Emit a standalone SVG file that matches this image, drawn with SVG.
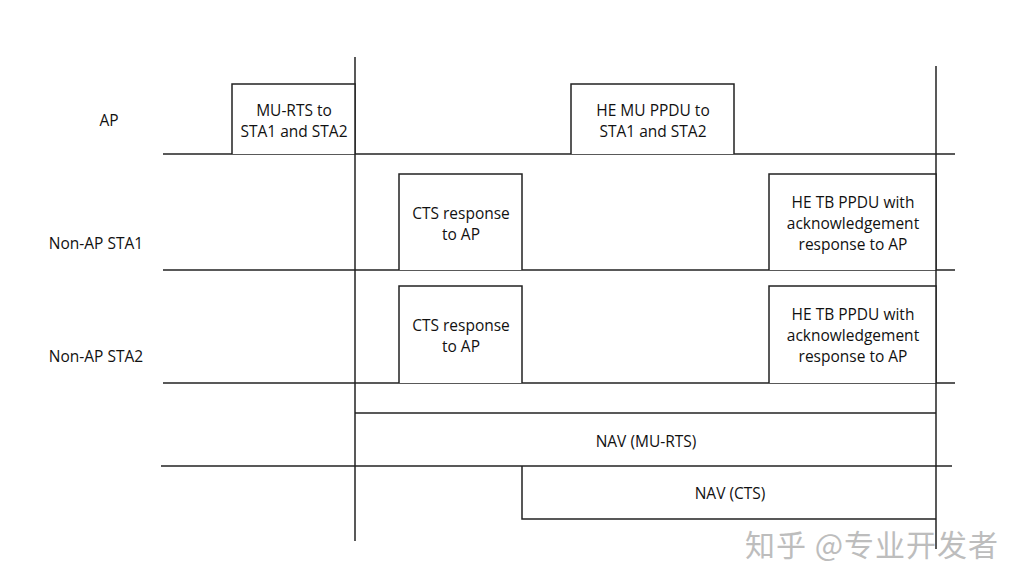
<svg xmlns="http://www.w3.org/2000/svg" width="1024" height="587" viewBox="0 0 1024 587">
<style>
.ln{stroke:#222;stroke-width:1.5;fill:none}
.bx{stroke:#222;stroke-width:1.5;fill:#fff}
.t{font-family:"Open Sans","Liberation Sans",sans-serif;font-size:15.5px;fill:#111;text-anchor:middle}
.wm{font-family:"Noto Sans CJK SC","Noto Sans",sans-serif;font-size:30px;fill:#bdbdbd;letter-spacing:1px}
</style>
<rect width="1024" height="587" fill="#fff"/>
<g id="connectors">
<line class="ln" x1="163" y1="154" x2="955" y2="154"/>
<line class="ln" x1="163" y1="270" x2="955" y2="270"/>
<line class="ln" x1="163" y1="383" x2="955" y2="383"/>
<line class="ln" x1="161" y1="466" x2="952" y2="466"/>
<line class="ln" x1="355" y1="57" x2="355" y2="541"/>
<line class="ln" x1="936" y1="66" x2="936" y2="549"/>
</g>
<g id="label-ap"><text class="t" x="109" y="126">AP</text></g>
<g id="label-sta1"><text class="t" x="96" y="249">Non-AP STA1</text></g>
<g id="label-sta2"><text class="t" x="96" y="362">Non-AP STA2</text></g>
<g id="murts">
<path class="bx" d="M232,154 V84 H355 V154"/>
<text class="t" x="294" y="116">MU-RTS to</text>
<text class="t" x="294" y="137">STA1 and STA2</text>
</g>
<g id="hemu">
<path class="bx" d="M571,154 V84 H734 V154"/>
<text class="t" x="653" y="116">HE MU PPDU to</text>
<text class="t" x="653" y="137">STA1 and STA2</text>
</g>
<g id="cts1">
<path class="bx" d="M399,270 V174 H522 V270"/>
<text class="t" x="461" y="219">CTS response</text>
<text class="t" x="461" y="240">to AP</text>
</g>
<g id="hetb1">
<path class="bx" d="M769,270 V174 H936 V270"/>
<text class="t" x="853" y="208">HE TB PPDU with</text>
<text class="t" x="853" y="229">acknowledgement</text>
<text class="t" x="853" y="250">response to AP</text>
</g>
<g id="cts2">
<path class="bx" d="M399,383 V286 H522 V383"/>
<text class="t" x="461" y="331">CTS response</text>
<text class="t" x="461" y="352">to AP</text>
</g>
<g id="hetb2">
<path class="bx" d="M769,383 V286 H936 V383"/>
<text class="t" x="853" y="320">HE TB PPDU with</text>
<text class="t" x="853" y="341">acknowledgement</text>
<text class="t" x="853" y="362">response to AP</text>
</g>
<g id="nav-murts">
<path class="ln" d="M355,413 H936"/>
<text class="t" x="646" y="447">NAV (MU-RTS)</text>
</g>
<g id="nav-cts">
<path class="ln" d="M522,466 V519 H936"/>
<text class="t" x="730" y="499">NAV (CTS)</text>
</g>
<g id="watermark"><text class="wm" x="745" y="556">知乎 @专业开发者</text></g>
</svg>
